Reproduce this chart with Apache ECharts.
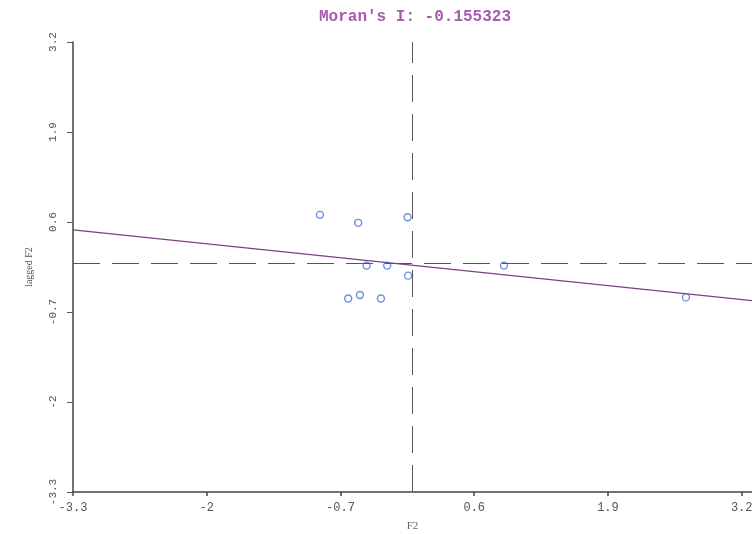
<!DOCTYPE html>
<html>
<head>
<meta charset="utf-8">
<script src="https://cdn.jsdelivr.net/npm/echarts@6/dist/echarts.min.js"></script>
<style>html,body{margin:0;padding:0;background:#fff;}#c{width:752px;height:534px;}</style>
</head>
<body>
<div id="c"></div>
<script>
var titleText = "Moran's I: -0.155323";
var xTickLabels = ["-3.3", "-2", "-0.7", "0.6", "1.9", "3.2"];
var yTickLabels = ["-3.3", "-2", "-0.7", "0.6", "1.9", "3.2"];
var f2Values = [-0.900, -0.528, -0.048, -0.446, -0.246, -0.042, -0.625, -0.511, -0.307, 0.889, 2.658];
var laggedF2Values = [0.703, 0.588, 0.669, -0.030, -0.030, -0.175, -0.504, -0.454, -0.504, -0.030, -0.489];
var fitX = [-3.3, 3.3];
var fitY = [0.486, -0.537];
var meanX = 0;
var meanY = 0;

var points = f2Values.map(function (x, i) { return [x, laggedF2Values[i]]; });
var fitLine = fitX.map(function (x, i) { return [x, fitY[i]]; });

function fmt(list) {
  return function (v) {
    for (var i = 0; i < list.length; i++) {
      if (Math.abs(parseFloat(list[i]) - v) < 1e-6) return list[i];
    }
    return '';
  };
}

var chart = echarts.init(document.getElementById('c'), null, { renderer: 'canvas' });
chart.setOption({
  animation: false,
  backgroundColor: '#ffffff',
  title: {
    text: titleText,
    left: 410,
    top: 4,
    textAlign: 'center',
    textStyle: { fontFamily: 'Liberation Mono', fontSize: 16, fontWeight: 'bold', color: '#a85aae' }
  },
  grid: { left: 73, right: 0, top: 42, bottom: 42, containLabel: false, outerBoundsMode: 'none' },
  xAxis: {
    type: 'value', min: -3.3, max: 3.3, interval: 1.3,
    name: 'F2', nameLocation: 'middle', nameGap: 29,
    nameTextStyle: { fontFamily: 'Liberation Serif', fontSize: 11, color: '#666' },
    axisLine: { onZero: false, lineStyle: { color: '#444', width: 1.5 } },
    axisTick: { length: 4, lineStyle: { color: '#444', width: 1.5 } },
    axisLabel: {
      formatter: fmt(xTickLabels), showMaxLabel: false, margin: 10,
      fontFamily: 'Liberation Mono', fontSize: 12, color: '#555'
    },
    splitLine: { show: false }
  },
  yAxis: {
    type: 'value', min: -3.3, max: 3.2, interval: 1.3,
    name: 'lagged F2', nameLocation: 'middle', nameGap: 39, nameRotate: 90,
    nameTextStyle: { fontFamily: 'Liberation Serif', fontSize: 10, color: '#555' },
    axisLine: { onZero: false, lineStyle: { color: '#444', width: 1.5 } },
    axisTick: { length: 6, lineStyle: { color: '#555', width: 1 } },
    axisLabel: {
      formatter: fmt(yTickLabels), rotate: 90, margin: 14,
      fontFamily: 'Liberation Mono', fontSize: 11, color: '#555'
    },
    splitLine: { show: false }
  },
  series: [
    {
      type: 'line',
      data: fitLine,
      showSymbol: false,
      symbol: 'none',
      lineStyle: { color: '#7d3f80', width: 1.2 },
      z: 2
    },
    {
      type: 'scatter',
      data: points,
      symbol: 'circle',
      symbolSize: 7,
      itemStyle: { color: 'rgba(255,255,255,0)', borderColor: '#4a6fd4', borderWidth: 1.4 },
      z: 3,
      markLine: {
        silent: true,
        symbol: 'none',
        label: { show: false },
        lineStyle: { color: '#555', width: 1, type: [27, 12] },
        data: [{ xAxis: meanX }, { yAxis: meanY }]
      }
    }
  ]
});
</script>
</body>
</html>
